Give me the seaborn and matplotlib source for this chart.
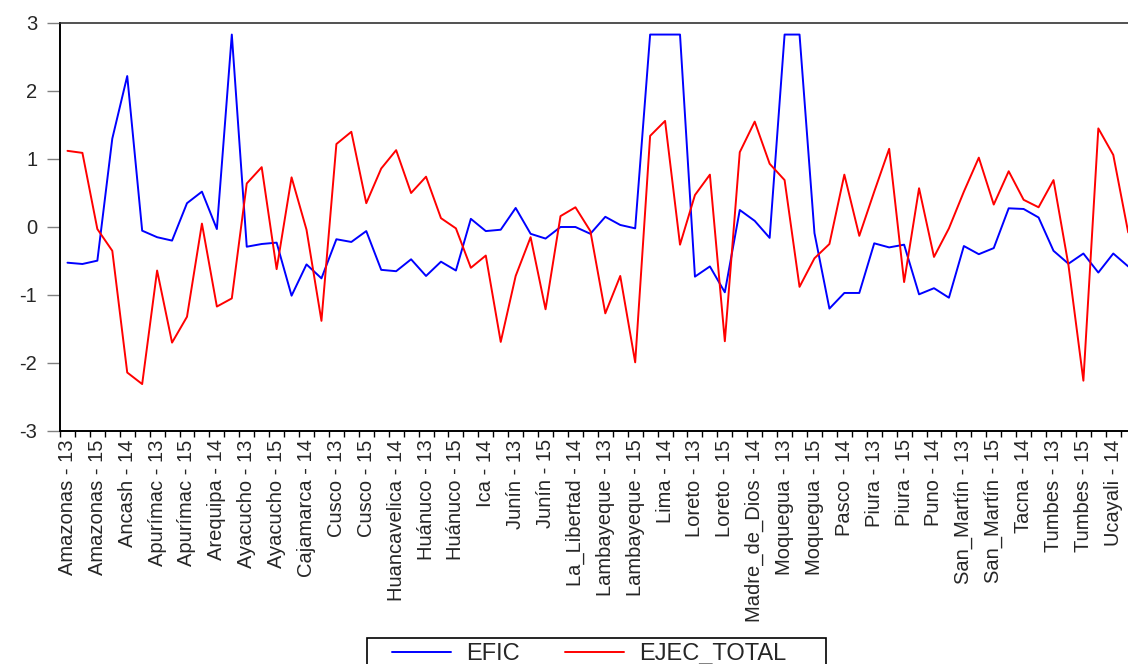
import numpy as np
import pandas as pd
import matplotlib
matplotlib.use("Agg")
import matplotlib.pyplot as plt
import seaborn as sns
from matplotlib import font_manager
from matplotlib.patches import Rectangle

regiones = ["Amazonas", "Ancash", "Apurímac", "Arequipa", "Ayacucho", "Cajamarca",
            "Cusco", "Huancavelica", "Huánuco", "Ica", "Junín", "La_Libertad",
            "Lambayeque", "Lima", "Loreto", "Madre_de_Dios", "Moquegua", "Pasco",
            "Piura", "Puno", "San_Martín", "Tacna", "Tumbes", "Ucayali"]
anios = ["13", "14", "15"]

efic = [-0.525, -0.544, -0.495, 1.30, 2.22, -0.054, -0.15, -0.20, 0.35, 0.52, -0.03, 2.83,
        -0.29, -0.25, -0.23, -1.01, -0.55, -0.755, -0.18, -0.22, -0.06, -0.63, -0.65, -0.475,
        -0.72, -0.51, -0.64, 0.12, -0.06, -0.04, 0.28, -0.10, -0.17, 0.00, 0.00, -0.10,
        0.15, 0.03, -0.02, 2.83, 2.83, 2.83, -0.73, -0.58, -0.96, 0.25, 0.09, -0.16,
        2.83, 2.83, -0.09, -1.20, -0.97, -0.97, -0.24, -0.30, -0.26, -0.99, -0.90, -1.04,
        -0.28, -0.40, -0.31, 0.275, 0.265, 0.14, -0.35, -0.54, -0.39, -0.67, -0.39, -0.58]

ejec_total = [1.12, 1.09, -0.03, -0.35, -2.14, -2.31, -0.64, -1.70, -1.32, 0.05, -1.17, -1.05,
              0.64, 0.88, -0.62, 0.73, -0.04, -1.38, 1.22, 1.40, 0.35, 0.86, 1.13, 0.50,
              0.74, 0.13, -0.02, -0.60, -0.42, -1.69, -0.72, -0.15, -1.21, 0.16, 0.29, -0.06,
              -1.27, -0.72, -1.99, 1.34, 1.56, -0.26, 0.47, 0.77, -1.68, 1.10, 1.55, 0.93,
              0.69, -0.88, -0.46, -0.25, 0.77, -0.13, 0.52, 1.15, -0.81, 0.57, -0.44, -0.02,
              0.52, 1.02, 0.33, 0.82, 0.40, 0.29, 0.69, -0.56, -2.26, 1.45, 1.06, -0.08]

etiquetas = [f"{r} - {a}" for r in regiones for a in anios]
n = len(etiquetas)

df = pd.DataFrame({"obs": np.arange(n), "EFIC": efic, "EJEC_TOTAL": ejec_total})
df_long = df.melt(id_vars="obs", var_name="serie", value_name="valor")

sns.set_style("white")
nombres = {f.name for f in font_manager.fontManager.ttflist}
plt.rcParams["font.family"] = ["Liberation Sans", "DejaVu Sans"]
plt.rcParams["axes.unicode_minus"] = False
if "Liberation Sans Narrow" in nombres:
    fuente_x, tam_x = ["Liberation Sans Narrow", "DejaVu Sans"], 17.5
else:
    fuente_x, tam_x = ["Liberation Sans", "DejaVu Sans"], 14.5

fig = plt.figure(figsize=(11.28, 6.64), dpi=100)
ax = fig.add_axes([60 / 1128, 1 - 431 / 664, 72 * 14.94 / 1128, 408 / 664])

sns.lineplot(data=df_long, x="obs", y="valor", hue="serie",
             palette={"EFIC": "#0000FF", "EJEC_TOTAL": "#FF0000"},
             linewidth=1.4, legend=False, ax=ax)

ax.set_xlim(-0.5, n - 0.5)
ax.set_ylim(-3, 3)
ax.set_xlabel("")
ax.set_ylabel("")

ax.set_yticks(range(-3, 4))
ax.tick_params(axis="y", which="major", length=9.4, width=1, color="#808080",
               pad=7, labelsize=14.5, left=True)

ax.set_xticks(np.arange(0, n, 2))
ax.set_xticklabels(etiquetas[::2], rotation=90, fontsize=tam_x, family=fuente_x)
ax.set_xticks(np.arange(-0.5, n, 1), minor=True)
ax.tick_params(axis="x", which="major", length=0, pad=6, bottom=True)
ax.tick_params(axis="x", which="minor", length=4.5, width=1, color="black", bottom=True)

for lado in ["left", "bottom"]:
    ax.spines[lado].set_color("black")
    ax.spines[lado].set_linewidth(1.4)
ax.spines["top"].set_color("#333333")
ax.spines["top"].set_linewidth(1.2)
ax.spines["right"].set_visible(False)

# legend box runs past the bottom edge, as in the original export
caja = Rectangle((367 / 1128, -20 / 664), (826 - 367) / 1128, (664 + 20 - 638) / 664,
                 transform=fig.transFigure, fill=False, edgecolor="black", linewidth=1.2)
fig.patches.append(caja)

leg = fig.legend(handles=ax.lines[:2], labels=["EFIC", "EJEC_TOTAL"],
                 loc="upper left", bbox_to_anchor=(392 / 1128, 1 - 643 / 664),
                 ncol=2, fontsize=17, frameon=False,
                 handlelength=2.5, handletextpad=0.64, columnspacing=1.9,
                 borderpad=0, borderaxespad=0)

fig.savefig("out.png", dpi=100)
